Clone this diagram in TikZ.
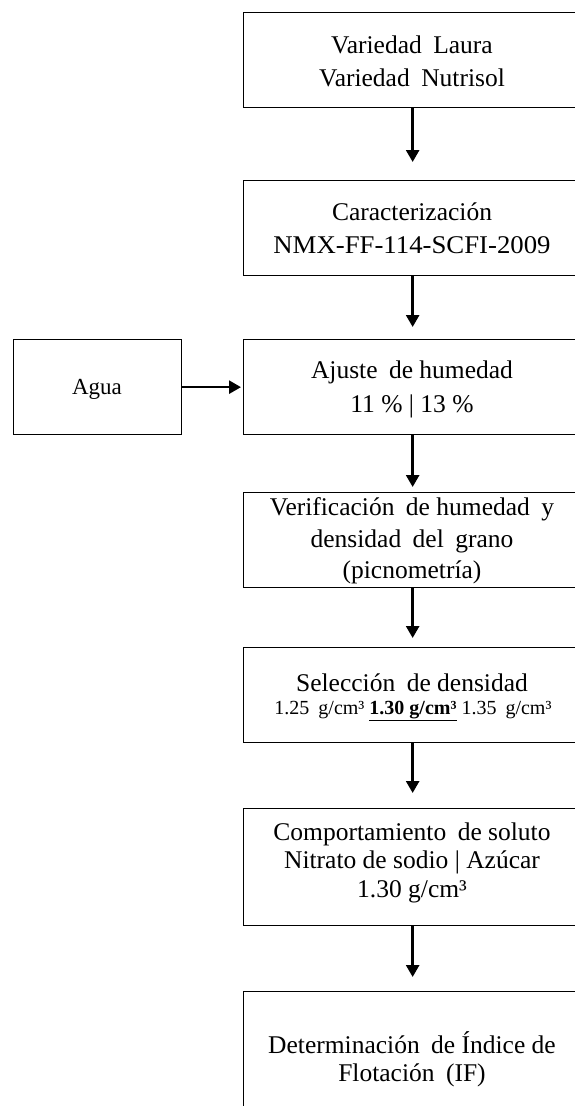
\documentclass[tikz,border=0pt]{standalone}
\usepackage{fontspec}
\usepackage{graphicx}
\setmainfont{Liberation Serif}
\usetikzlibrary{arrows.meta}
\newcommand\wsp{\hspace{0.45em}}
\begin{document}
\begin{tikzpicture}[x=1pt,y=-1pt,
  box/.style={draw, line width=1.3pt, minimum width=338pt, minimum height=#1, inner sep=0pt, anchor=north west},
  sidebox/.style={draw, line width=1.3pt, minimum width=168pt, minimum height=95pt, inner sep=0pt, anchor=north west},
  ln/.style={anchor=base, inner sep=0pt, font=\fontsize{25.5}{30}\selectfont},
  lnsmall/.style={anchor=base, inner sep=0pt, font=\fontsize{20}{24}\selectfont},
  lnside/.style={anchor=base, inner sep=0pt, font=\fontsize{23}{27}\selectfont},
  arr/.style={line width=2.6pt, -{Triangle[length=12pt,width=13pt]}}]
\useasboundingbox (0,0) rectangle (575,1106);
\clip (0,0) rectangle (575,1106);
\fill[white] (0,0) rectangle (575,1106);

% boxes
\node[box=95pt]  (b1) at (243,12)  {};
\node[box=95pt]  (b2) at (243,180) {};
\node[box=95pt]  (b3) at (243,339) {};
\node[sidebox]   (ag) at (13,339)  {};
\node[box=95pt]  (b4) at (243,492) {};
\node[box=95pt]  (b5) at (243,647) {};
\node[box=117pt] (b6) at (243,808) {};
\node[box=128pt] (b7) at (243,991) {};

% texts
\node[ln] (t1a) at (412,53) {Variedad\wsp Laura};
\node[ln] (t1b) at (412,86) {Variedad\wsp Nutrisol};
\node[ln] (t2a) at (412,220) {Caracterización};
\node[ln] (t2b) at (412,253) {\scalebox{1.05}[1]{NMX-FF-114-SCFI-2009}};
\node[ln] (t3a) at (412,378) {Ajuste\wsp de humedad};
\node[ln] (t3b) at (412,412) {11 \% | 13 \%};
\node[lnside] (tag) at (97,394) {Agua};
\node[ln] (t4a) at (412,515) {Verificación\wsp de humedad\wsp y};
\node[ln] (t4b) at (412,547) {densidad\wsp del\wsp grano};
\node[ln] (t4c) at (412,578) {(picnometría)};
\node[ln] (t5a) at (412,691) {Selección\wsp de densidad};
\node[lnsmall] (t5b) at (413,714) {1.25\wsp g/cm³ {\bfseries\underline{1.30 g/cm³}} 1.35\wsp g/cm³};
\node[ln] (t6a) at (412,840) {Comportamiento\wsp de soluto};
\node[ln] (t6b) at (412,868) {Nitrato de sodio | Azúcar};
\node[ln] (t6c) at (412,897) {1.30 g/cm³};
\node[ln] (t7a) at (412,1053) {Determinación\wsp de Índice de};
\node[ln] (t7b) at (412,1081) {Flotación\wsp (IF)};

% connectors
\draw[arr] (b1.south) -- ([yshift=18pt]b2.north);
\draw[arr] (b2.south) -- ([yshift=12pt]b3.north);
\draw[arr] (ag.east) -- ([xshift=-2pt]b3.west);
\draw[arr] (b3.south) -- ([yshift=5pt]b4.north);
\draw[arr] (b4.south) -- ([yshift=9pt]b5.north);
\draw[arr] (b5.south) -- ([yshift=15pt]b6.north);
\draw[arr] (b6.south) -- ([yshift=14pt]b7.north);
\end{tikzpicture}
\end{document}
